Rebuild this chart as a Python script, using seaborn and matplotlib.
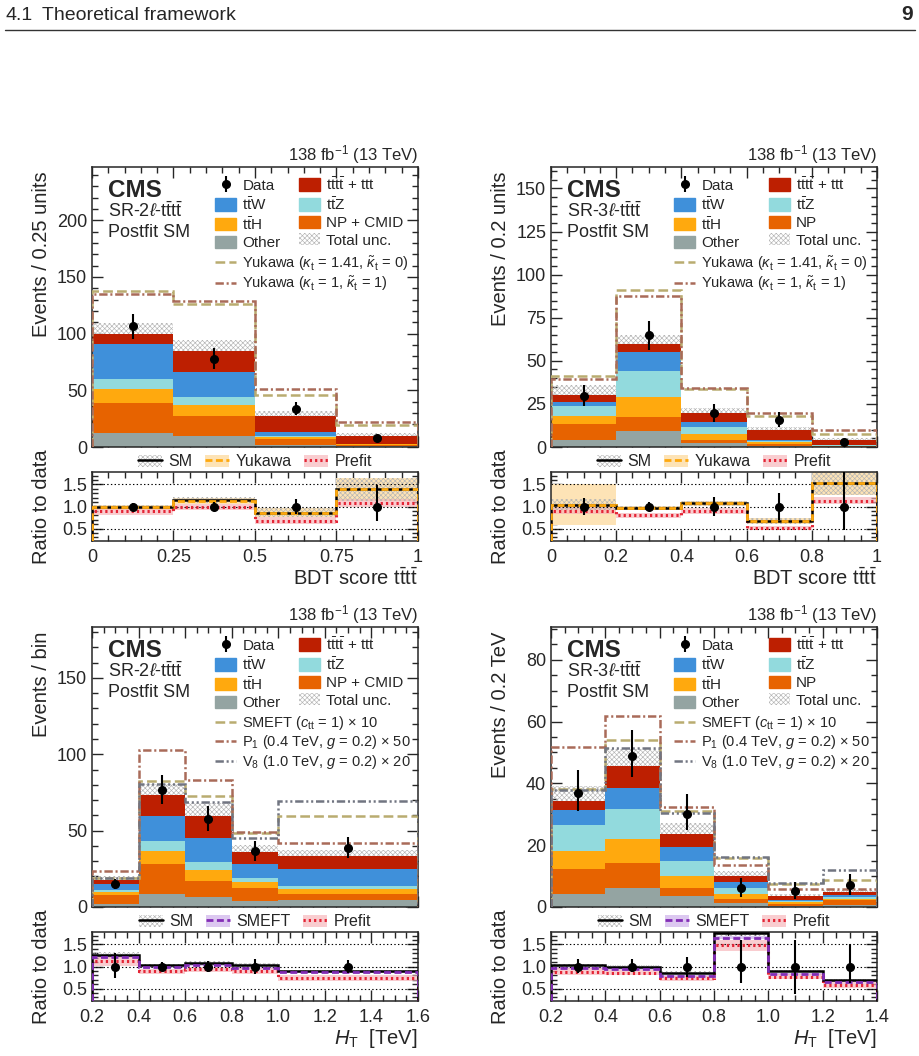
import numpy as np
import pandas as pd
import matplotlib
matplotlib.use("Agg")
import matplotlib.pyplot as plt
import seaborn as sns
from matplotlib.lines import Line2D
from matplotlib.patches import Patch
from matplotlib.ticker import MultipleLocator

# ---------------- top left: SR-2l, BDT score ----------------
tl_edges = [0, 0.25, 0.5, 0.75, 1.0]
tl_other = [12.4, 9.7, 1.5, 0.6]
tl_np = [26.4, 17.7, 5.3, 1.4]
tl_tth = [12.4, 10.0, 2.0, 0.4]
tl_ttz = [8.8, 6.4, 1.2, 0.2]
tl_ttw = [30.6, 22.4, 3.0, 0.4]
tl_tttt = [9.4, 18.5, 14.0, 6.4]
tl_unc = [9.7, 9.4, 4.8, 3.0]
tl_data = [106.5, 78.0, 33.8, 8.0]
tl_data_lo = [11.0, 9.5, 6.0, 3.0]
tl_data_hi = [11.0, 9.5, 6.0, 3.0]
tl_yuk_a = [138.0, 126.5, 45.9, 19.1]
tl_yuk_b = [135.0, 128.8, 51.5, 22.0]
tl_r_sm = [1.0, 1.14, 0.86, 1.39]
tl_r_sm_unc = [0.04, 0.07, 0.10, 0.26]
tl_r_alt = [0.98, 1.13, 0.86, 1.39]
tl_r_alt_unc = [0.05, 0.07, 0.10, 0.26]
tl_r_pre = [0.895, 0.99, 0.68, 1.09]
tl_r_pre_unc = [0.09, 0.07, 0.08, 0.09]
tl_r_lo = [0.08, 0.10, 0.17, 0.33]
tl_r_hi = [0.08, 0.10, 0.17, 0.48]

# ---------------- top right: SR-3l, BDT score ----------------
tr_edges = [0, 0.2, 0.4, 0.6, 0.8, 1.0]
tr_other = [3.9, 9.1, 2.3, 0.8, 0.2]
tr_np = [9.3, 8.3, 2.0, 1.1, 0.4]
tr_tth = [4.6, 11.6, 3.1, 1.0, 0.2]
tr_ttz = [6.0, 15.1, 4.2, 0.6, 0.2]
tr_ttw = [2.3, 10.8, 2.7, 0.6, 0.2]
tr_tttt = [3.9, 4.7, 5.4, 5.6, 3.1]
tr_unc = [5.8, 5.2, 2.9, 1.9, 0.9]
tr_data = [29.8, 64.8, 19.7, 15.9, 2.9]
tr_data_lo = [6.0, 8.6, 5.0, 4.3, 2.0]
tr_data_hi = [6.0, 8.6, 5.0, 4.3, 2.0]
tr_yuk_a = [41.2, 90.9, 33.7, 18.0, 7.7]
tr_yuk_b = [39.5, 87.6, 34.0, 19.9, 9.9]
tr_r_sm = [1.045, 0.97, 1.07, 0.67, 1.53]
tr_r_sm_unc = [0.13, 0.05, 0.05, 0.07, 0.26]
tr_r_alt = [1.045, 0.97, 1.07, 0.67, 1.53]
tr_r_alt_unc = [0.47, 0.05, 0.06, 0.07, 0.27]
tr_r_pre = [0.90, 0.80, 0.90, 0.52, 1.13]
tr_r_pre_unc = [0.08, 0.05, 0.06, 0.05, 0.08]
tr_r_lo = [0.20, 0.10, 0.22, 0.30, 0.53]
tr_r_hi = [0.20, 0.10, 0.22, 0.30, 0.78]

# ---------------- bottom left: SR-2l, HT ----------------
bl_edges = [0.2, 0.4, 0.6, 0.8, 1.0, 1.6]
bl_other = [1.7, 8.7, 6.8, 3.7, 4.4]
bl_np = [6.2, 19.7, 10.4, 9.0, 4.1]
bl_tth = [1.7, 8.3, 7.3, 3.7, 3.3]
bl_ttz = [1.8, 6.5, 4.8, 2.6, 2.0]
bl_ttw = [3.9, 16.2, 15.9, 8.9, 11.3]
bl_tttt = [2.2, 14.2, 14.2, 7.9, 8.1]
bl_unc = [2.6, 7.2, 8.9, 4.6, 4.4]
bl_data = [15.1, 76.9, 57.9, 36.7, 38.9]
bl_data_lo = [3.3, 9.5, 8.0, 6.5, 7.0]
bl_data_hi = [3.3, 9.5, 8.0, 6.5, 7.0]
bl_smeft = [19.2, 82.3, 72.9, 48.7, 59.8]
bl_p1 = [23.4, 103.0, 83.0, 49.1, 41.7]
bl_v8 = [19.0, 80.3, 68.6, 45.0, 69.7]
bl_r_sm = [1.27, 1.03, 1.09, 1.04, 0.90]
bl_r_sm_unc = [0.05, 0.03, 0.03, 0.04, 0.03]
bl_r_alt = [1.22, 0.985, 1.03, 0.96, 0.865]
bl_r_alt_unc = [0.03, 0.02, 0.02, 0.02, 0.02]
bl_r_pre = [1.12, 0.89, 0.94, 0.895, 0.745]
bl_r_pre_unc = [0.10, 0.06, 0.06, 0.06, 0.07]
bl_r_lo = [0.25, 0.10, 0.12, 0.17, 0.15]
bl_r_hi = [0.31, 0.10, 0.12, 0.17, 0.15]

# ---------------- bottom right: SR-3l, HT ----------------
br_edges = [0.2, 0.4, 0.6, 0.8, 1.0, 1.2, 1.4]
br_other = [4.3, 6.3, 3.7, 1.3, 0.4, 0.6]
br_np = [8.0, 8.0, 2.3, 1.3, 0.5, 1.6]
br_tth = [5.8, 7.7, 4.1, 1.7, 0.6, 0.5]
br_ttz = [8.3, 9.7, 4.8, 1.7, 0.4, 0.5]
br_ttw = [5.1, 6.9, 4.5, 2.1, 0.5, 0.7]
br_tttt = [2.8, 6.9, 4.3, 1.8, 1.1, 0.8]
br_unc = [4.7, 5.7, 3.5, 1.7, 0.8, 0.9]
br_data = [37.0, 49.0, 30.0, 6.1, 5.1, 7.0]
br_data_lo = [6.0, 7.0, 5.2, 2.9, 2.4, 3.2]
br_data_hi = [7.2, 8.1, 6.4, 3.4, 3.0, 3.8]
br_smeft = [38.3, 53.9, 31.0, 16.0, 7.5, 8.8]
br_p1 = [51.8, 61.7, 32.3, 13.5, 5.9, 5.9]
br_v8 = [37.7, 51.5, 30.5, 16.2, 7.8, 11.9]
br_r_sm = [1.03, 1.0, 0.86, 1.75, 0.895, 0.69]
br_r_sm_unc = [0.03, 0.03, 0.03, 0.06, 0.03, 0.03]
br_r_alt = [0.97, 0.94, 0.79, 1.65, 0.83, 0.66]
br_r_alt_unc = [0.02, 0.02, 0.02, 0.03, 0.02, 0.02]
br_r_pre = [0.88, 0.86, 0.73, 1.48, 0.77, 0.58]
br_r_pre_unc = [0.08, 0.06, 0.06, 0.12, 0.06, 0.07]
br_r_lo = [0.14, 0.13, 0.23, 0.38, 0.62, 0.37]
br_r_hi = [0.18, 0.16, 0.22, 0.60, 0.60, 0.52]

# ---------------- style ----------------
sns.set_style("ticks")
plt.rcParams["font.family"] = ["Liberation Sans", "DejaVu Sans"]
plt.rcParams["mathtext.fontset"] = "custom"
plt.rcParams["mathtext.rm"] = "Liberation Sans"
plt.rcParams["mathtext.it"] = "Liberation Sans:italic"
plt.rcParams["mathtext.bf"] = "Liberation Sans:bold"
plt.rcParams["lines.scale_dashes"] = False
plt.rcParams["hatch.linewidth"] = 0.45
plt.rcParams["axes.linewidth"] = 1.1

C_TTTT = "#bd1f01"
C_TTW = "#3f90da"
C_TTZ = "#92dadd"
C_TTH = "#ffa90e"
C_NP = "#e76300"
C_OTHER = "#94a4a2"
C_HATCH = "#b4b4b4"
C_PRE = "#e42536"
C_PRE_BAND = "#f7b3b7"
HATCH = "xxxxxxx"

L_TTTT = r"$\mathrm{t\bar{t}t\bar{t}}$ + ttt"
L_TTW = r"$\mathrm{t\bar{t}W}$"
L_TTZ = r"$\mathrm{t\bar{t}Z}$"
L_TTH = r"$\mathrm{t\bar{t}H}$"

DASH = (0, (7, 3))
DASHDOT = (0, (6, 2, 1.5, 2))
DASHDOTDOT = (0, (6, 2, 1.5, 2, 1.5, 2))


def draw_panel(ax, ax_r, p):
    edges = list(p["edges"])
    edges_arr = np.array(edges)
    centers = 0.5 * (edges_arr[1:] + edges_arr[:-1])
    names = [L_TTTT, L_TTW, L_TTZ, L_TTH, p["np_label"], "Other"]
    colors = [C_TTTT, C_TTW, C_TTZ, C_TTH, C_NP, C_OTHER]
    rows = []
    for name, vals in zip(names, p["yields"]):
        for c, v in zip(centers, vals):
            rows.append((c, v, name))
    df = pd.DataFrame(rows, columns=["x", "w", "proc"])
    sns.histplot(data=df, x="x", weights="w", hue="proc", hue_order=names,
                 palette=dict(zip(names, colors)), multiple="stack", bins=edges,
                 element="bars", alpha=1, linewidth=0, legend=False, ax=ax)
    total = np.sum(np.array(p["yields"]), axis=0)
    unc = np.array(p["unc"])
    ax.stairs(total + unc, edges_arr, baseline=total, fill=True,
              facecolor="none", edgecolor=C_HATCH, hatch=HATCH,
              linewidth=0, zorder=3)

    model_handles = []
    for vals, color, ls, label in p["models"]:
        ax.stairs(vals, edges_arr, baseline=0, color=color, linestyle=ls,
                  linewidth=1.8, zorder=4)
        model_handles.append(Line2D([], [], color=color, linestyle=ls,
                                    linewidth=1.8, label=label))

    eb = ax.errorbar(centers, p["data"], yerr=[p["data_lo"], p["data_hi"]],
                     fmt="o", color="k", ms=5.5, elinewidth=1.5, capsize=0,
                     zorder=6)

    ax.set_xlim(edges[0], edges[-1])
    ax.set_ylim(0, p["ymax"])
    ax.set_xlabel("")
    ax.set_ylabel(p["ylabel"], fontsize=14.5, loc="top")
    ax.yaxis.set_label_coords(-0.125, 0.985)
    ax.xaxis.set_major_locator(MultipleLocator(p["xmajor"]))
    ax.xaxis.set_minor_locator(MultipleLocator(0.05))
    ax.yaxis.set_major_locator(MultipleLocator(p["ymajor"]))
    ax.yaxis.set_minor_locator(MultipleLocator(p["yminor"]))
    ax.tick_params(which="both", direction="in", top=True, right=True,
                   labelbottom=False, labelsize=13)
    ax.tick_params(which="major", length=8, width=1)
    ax.tick_params(which="minor", length=4, width=1)

    ax.text(0.05, 0.892, "CMS", transform=ax.transAxes, fontsize=17.5,
            fontweight="bold", va="baseline")
    ax.text(0.05, 0.8225, p["region"], transform=ax.transAxes, fontsize=13,
            va="baseline")
    ax.text(0.05, 0.751, "Postfit SM", transform=ax.transAxes, fontsize=13,
            va="baseline")
    ax.text(1.0, 1.0225, r"138 fb$^{-1}$ (13 TeV)", transform=ax.transAxes,
            fontsize=12, ha="right", va="baseline")

    hatch_patch = Patch(facecolor="white", edgecolor=C_HATCH, hatch=HATCH,
                        linewidth=0)
    handles = [eb, Patch(color=C_TTW), Patch(color=C_TTH), Patch(color=C_OTHER),
               Patch(color=C_TTTT), Patch(color=C_TTZ), Patch(color=C_NP),
               hatch_patch]
    labels = ["Data", L_TTW, L_TTH, "Other", L_TTTT, L_TTZ, p["np_label"],
              "Total unc."]
    leg1 = ax.legend(handles, labels, ncol=2, loc="upper left",
                     bbox_to_anchor=(0.377, 0.968), frameon=False,
                     fontsize=11, handlelength=1.4, handleheight=0.85,
                     labelspacing=0.2, columnspacing=p["colspace"],
                     handletextpad=0.4, borderpad=0, borderaxespad=0)
    ax.add_artist(leg1)
    ax.legend(handles=model_handles, loc="upper left",
              bbox_to_anchor=(0.377, 0.69), frameon=False, fontsize=10.5,
              handlelength=1.45, labelspacing=0.1, handletextpad=0.4,
              borderpad=0, borderaxespad=0)

    # ratio panel
    r_sm = np.array(p["r_sm"])
    r_sm_u = np.array(p["r_sm_unc"])
    r_alt = np.array(p["r_alt"])
    r_alt_u = np.array(p["r_alt_unc"])
    r_pre = np.array(p["r_pre"])
    r_pre_u = np.array(p["r_pre_unc"])
    ax_r.stairs(r_alt + r_alt_u, edges_arr, baseline=r_alt - r_alt_u,
                fill=True, color=p["alt_band"], linewidth=0, zorder=1)
    ax_r.stairs(r_pre + r_pre_u, edges_arr, baseline=r_pre - r_pre_u,
                fill=True, color=C_PRE_BAND, alpha=0.65, linewidth=0,
                zorder=1.5)
    ax_r.stairs(r_sm + r_sm_u, edges_arr, baseline=r_sm - r_sm_u, fill=True,
                facecolor="none", edgecolor=C_HATCH, hatch=HATCH,
                linewidth=0, zorder=2)
    for yv in [0.5, 1.0, 1.5]:
        ax_r.axhline(yv, color="k", linestyle=":", linewidth=0.8, zorder=2.5)
    pre_ls = (0, (1.6, 2.2))
    alt_ls = (0, (5, 2.5))
    ax_r.stairs(r_pre, edges_arr, baseline=0, color=C_PRE, linestyle=pre_ls,
                linewidth=2.2, zorder=3)
    ax_r.stairs(r_sm, edges_arr, baseline=0, color="k", linewidth=1.8,
                zorder=3.5)
    ax_r.stairs(r_alt, edges_arr, baseline=0, color=p["alt_color"],
                linestyle=alt_ls, linewidth=2.0, zorder=4)
    ax_r.errorbar(centers, np.ones(len(centers)), yerr=[p["r_lo"], p["r_hi"]],
                  fmt="o", color="k", ms=5.5, elinewidth=1.5, capsize=0,
                  zorder=6)

    ax_r.set_xlim(edges[0], edges[-1])
    ax_r.set_ylim(0.22, 1.78)
    ax_r.set_xticks(p["xticks"], p["xticklabels"])
    ax_r.xaxis.set_minor_locator(MultipleLocator(0.05))
    ax_r.set_yticks([0.5, 1.0, 1.5], ["0.5", "1.0", "1.5"])
    ax_r.yaxis.set_minor_locator(MultipleLocator(0.1))
    ax_r.tick_params(which="both", direction="in", top=True, right=True,
                     labelsize=13)
    ax_r.tick_params(which="major", length=8, width=1)
    ax_r.tick_params(which="minor", length=4, width=1)
    ax_r.tick_params(axis="x", pad=6)
    ax_r.set_ylabel("Ratio to data", fontsize=14.5)
    ax_r.yaxis.set_label_coords(-0.125, 0.5)
    ax_r.set_xlabel(p["xlabel"], fontsize=14.5, loc="right")
    ax_r.xaxis.set_label_coords(1.0, -0.38)

    sm_h = (Patch(facecolor="white", edgecolor=C_HATCH, hatch=HATCH,
                  linewidth=0), Line2D([], [], color="k", linewidth=1.8))
    alt_h = (Patch(facecolor=p["alt_band"], linewidth=0),
             Line2D([], [], color=p["alt_color"], linestyle=alt_ls,
                    linewidth=2.0))
    pre_h = (Patch(facecolor=C_PRE_BAND, alpha=0.65, linewidth=0),
             Line2D([], [], color=C_PRE, linestyle=pre_ls, linewidth=2.2))
    ax_r.legend([sm_h, alt_h, pre_h], ["SM", p["alt_label"], "Prefit"],
                ncol=3, loc="lower center", bbox_to_anchor=(0.5, 1.04),
                frameon=False, fontsize=11.5, handlelength=1.5,
                handleheight=0.8, handletextpad=0.4, columnspacing=0.8,
                borderpad=0, borderaxespad=0)


yuk_a = r"Yukawa ($\kappa_\mathrm{t}$ = 1.41, $\tilde{\kappa}_\mathrm{t}$ = 0)"
yuk_b = r"Yukawa ($\kappa_\mathrm{t}$ = 1, $\tilde{\kappa}_\mathrm{t}$ = 1)"
lab_smeft = r"SMEFT ($c_\mathrm{tt}$ = 1) $\times$ 10"
lab_p1 = r"P$_1$ (0.4 TeV, $g$ = 0.2) $\times$ 50"
lab_v8 = r"V$_8$ (1.0 TeV, $g$ = 0.2) $\times$ 20"
bdt_label = r"BDT score $\mathrm{t\bar{t}t\bar{t}}$"
ht_label = r"$H_\mathrm{T}$  [TeV]"
sr2 = r"SR-2$\ell$-$\mathrm{t\bar{t}t\bar{t}}$"
sr3 = r"SR-3$\ell$-$\mathrm{t\bar{t}t\bar{t}}$"

ht_ticks_l = [0.2, 0.4, 0.6, 0.8, 1.0, 1.2, 1.4, 1.6]
ht_ticks_r = [0.2, 0.4, 0.6, 0.8, 1.0, 1.2, 1.4]

panels = [
    dict(edges=tl_edges,
         yields=[tl_tttt, tl_ttw, tl_ttz, tl_tth, tl_np, tl_other],
         unc=tl_unc, data=tl_data, data_lo=tl_data_lo, data_hi=tl_data_hi,
         models=[(tl_yuk_a, "#b9ac70", DASH, yuk_a),
                 (tl_yuk_b, "#a96b59", DASHDOT, yuk_b)],
         np_label="NP + CMID", region=sr2, ylabel="Events / 0.25 units",
         ymax=247, ymajor=50, yminor=10, xmajor=0.25, colspace=1.2,
         xticks=[0, 0.25, 0.5, 0.75, 1.0],
         xticklabels=["0", "0.25", "0.5", "0.75", "1"], xlabel=bdt_label,
         r_sm=tl_r_sm, r_sm_unc=tl_r_sm_unc, r_alt=tl_r_alt,
         r_alt_unc=tl_r_alt_unc, r_pre=tl_r_pre, r_pre_unc=tl_r_pre_unc,
         r_lo=tl_r_lo, r_hi=tl_r_hi, alt_label="Yukawa",
         alt_color="#ffa90e", alt_band="#fde3b6"),
    dict(edges=tr_edges,
         yields=[tr_tttt, tr_ttw, tr_ttz, tr_tth, tr_np, tr_other],
         unc=tr_unc, data=tr_data, data_lo=tr_data_lo, data_hi=tr_data_hi,
         models=[(tr_yuk_a, "#b9ac70", DASH, yuk_a),
                 (tr_yuk_b, "#a96b59", DASHDOT, yuk_b)],
         np_label="NP", region=sr3, ylabel="Events / 0.2 units",
         ymax=162.5, ymajor=25, yminor=5, xmajor=0.2, colspace=1.9,
         xticks=[0, 0.2, 0.4, 0.6, 0.8, 1.0],
         xticklabels=["0", "0.2", "0.4", "0.6", "0.8", "1"], xlabel=bdt_label,
         r_sm=tr_r_sm, r_sm_unc=tr_r_sm_unc, r_alt=tr_r_alt,
         r_alt_unc=tr_r_alt_unc, r_pre=tr_r_pre, r_pre_unc=tr_r_pre_unc,
         r_lo=tr_r_lo, r_hi=tr_r_hi, alt_label="Yukawa",
         alt_color="#ffa90e", alt_band="#fde3b6"),
    dict(edges=bl_edges,
         yields=[bl_tttt, bl_ttw, bl_ttz, bl_tth, bl_np, bl_other],
         unc=bl_unc, data=bl_data, data_lo=bl_data_lo, data_hi=bl_data_hi,
         models=[(bl_smeft, "#b9ac70", DASH, lab_smeft),
                 (bl_p1, "#a96b59", DASHDOT, lab_p1),
                 (bl_v8, "#717581", DASHDOTDOT, lab_v8)],
         np_label="NP + CMID", region=sr2, ylabel="Events / bin",
         ymax=183.4, ymajor=50, yminor=10, xmajor=0.2, colspace=1.2,
         xticks=ht_ticks_l, xticklabels=[f"{v:.1f}" for v in ht_ticks_l],
         xlabel=ht_label,
         r_sm=bl_r_sm, r_sm_unc=bl_r_sm_unc, r_alt=bl_r_alt,
         r_alt_unc=bl_r_alt_unc, r_pre=bl_r_pre, r_pre_unc=bl_r_pre_unc,
         r_lo=bl_r_lo, r_hi=bl_r_hi, alt_label="SMEFT",
         alt_color="#832db6", alt_band="#dcc8f0"),
    dict(edges=br_edges,
         yields=[br_tttt, br_ttw, br_ttz, br_tth, br_np, br_other],
         unc=br_unc, data=br_data, data_lo=br_data_lo, data_hi=br_data_hi,
         models=[(br_smeft, "#b9ac70", DASH, lab_smeft),
                 (br_p1, "#a96b59", DASHDOT, lab_p1),
                 (br_v8, "#717581", DASHDOTDOT, lab_v8)],
         np_label="NP", region=sr3, ylabel="Events / 0.2 TeV",
         ymax=90.6, ymajor=20, yminor=5, xmajor=0.2, colspace=1.9,
         xticks=ht_ticks_r, xticklabels=[f"{v:.1f}" for v in ht_ticks_r],
         xlabel=ht_label,
         r_sm=br_r_sm, r_sm_unc=br_r_sm_unc, r_alt=br_r_alt,
         r_alt_unc=br_r_alt_unc, r_pre=br_r_pre, r_pre_unc=br_r_pre_unc,
         r_lo=br_r_lo, r_hi=br_r_hi, alt_label="SMEFT",
         alt_color="#832db6", alt_band="#dcc8f0"),
]

fig = plt.figure(figsize=(9.2, 10.56), dpi=100)

lefts = [0.1, 0.5989, 0.1, 0.5989]
main_bottoms = [0.5767, 0.5767, 0.1411, 0.1411]
ratio_bottoms = [0.4877, 0.4877, 0.0521, 0.0521]
for p, lx, mb, rb in zip(panels, lefts, main_bottoms, ratio_bottoms):
    ax = fig.add_axes([lx, mb, 0.3543, 0.2652])
    ax_r = fig.add_axes([lx, rb, 0.3543, 0.0653])
    draw_panel(ax, ax_r, p)

# page header
fig.text(6 / 920, 1 - 15 / 1056, "4.1", fontsize=14, va="center")
fig.text(42 / 920, 1 - 15 / 1056, "Theoretical framework", fontsize=14,
         va="center")
fig.text(913 / 920, 1 - 15 / 1056, "9", fontsize=15, fontweight="bold",
         ha="right", va="center")
fig.add_artist(Line2D([5 / 920, 915 / 920], [1 - 30 / 1056, 1 - 30 / 1056],
                      color="#333333", linewidth=1.0))

plt.savefig("out.png", dpi=100)
